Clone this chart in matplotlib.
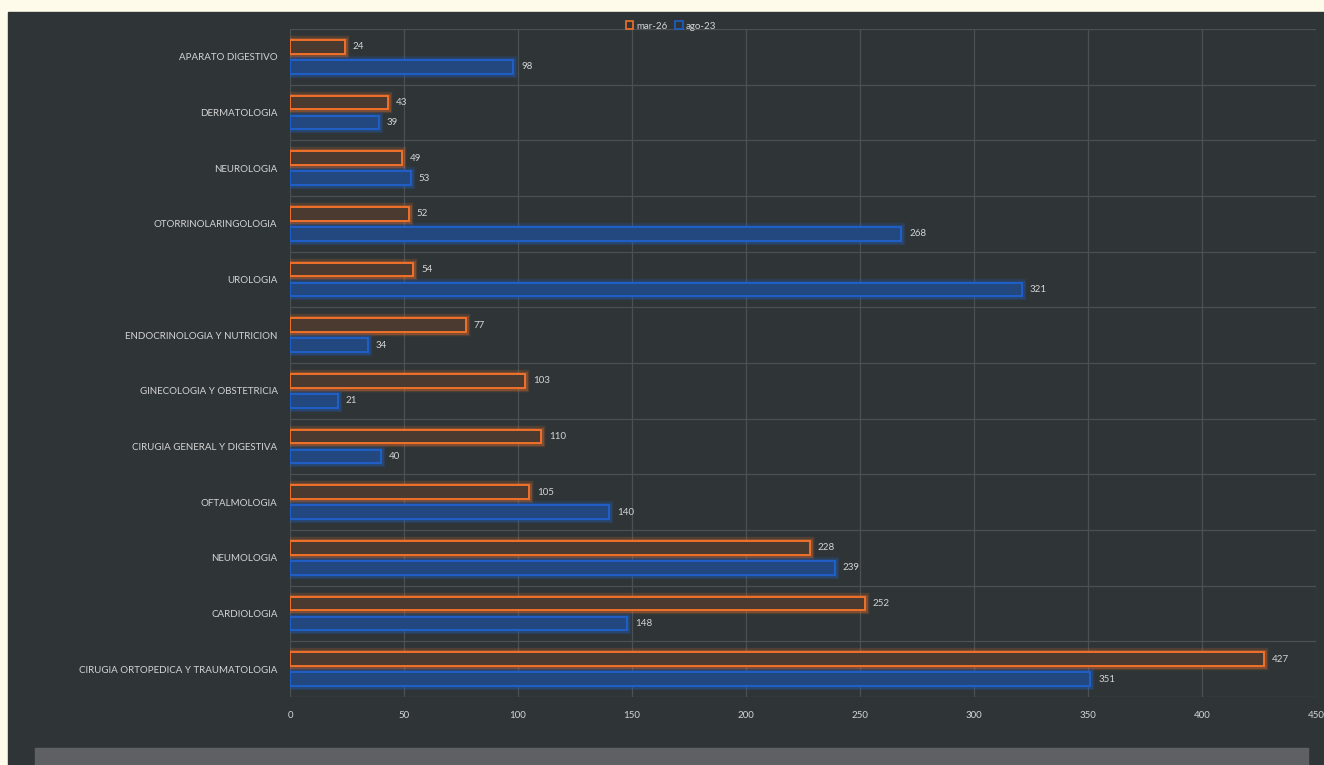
import matplotlib.pyplot as plt
import matplotlib.patches as mpatches
import numpy as np

categorias = ['APARATO DIGESTIVO', 'DERMATOLOGIA', 'NEUROLOGIA', 'OTORRINOLARINGOLOGIA',
              'UROLOGIA', 'ENDOCRINOLOGIA Y NUTRICION', 'GINECOLOGIA Y OBSTETRICIA',
              'CIRUGIA GENERAL Y DIGESTIVA', 'OFTALMOLOGIA', 'NEUMOLOGIA', 'CARDIOLOGIA',
              'CIRUGIA ORTOPEDICA Y TRAUMATOLOGIA']
mar26 = [24, 43, 49, 52, 54, 77, 103, 110, 105, 228, 252, 427]
ago23 = [98, 39, 53, 268, 321, 34, 21, 40, 140, 239, 148, 351]
series = ['mar-26', 'ago-23']

plt.rcParams['font.family'] = ['Lato', 'DejaVu Sans']

fondo = '#2f3537'
naranja = '#f0702a'
azul = '#1f60c8'
texto = '#d4d4d4'

fig = plt.figure(figsize=(13.24, 7.65), dpi=100)
fig.patch.set_facecolor('#fffbea')
# panel oscuro y franja gris inferior
fig.add_artist(mpatches.Rectangle((8/1324, 0), 1 - 8/1324, 1 - 12/765,
                                  transform=fig.transFigure, color=fondo, zorder=0))
fig.add_artist(mpatches.Rectangle((35/1324, 0), (1308-35)/1324, 17/765,
                                  transform=fig.transFigure, color='#5f6064', zorder=1))

ax = fig.add_axes([290/1324, 1 - 697/765, (1316-290)/1324, (697-29)/765])
ax.set_facecolor(fondo)

y = np.arange(len(categorias))
h = 0.25
off = 0.18

def barras(vals, pos, col, fill):
    # halo difuso + borde brillante
    ax.barh(pos, vals, height=h, color='none', edgecolor=col, linewidth=6, alpha=0.18, zorder=2)
    ax.barh(pos, vals, height=h, color='none', edgecolor=col, linewidth=3.5, alpha=0.3, zorder=2)
    ax.barh(pos, vals, height=h, color=fill, edgecolor=col, linewidth=1.4, zorder=3)

barras(mar26, y - off, naranja, '#4a3a2f')
barras(ago23, y + off, azul, '#23487f')

for i in range(len(categorias)):
    ax.text(mar26[i] + 3.5, y[i] - off, str(mar26[i]), va='center', ha='left', fontsize=7, color=texto)
    ax.text(ago23[i] + 3.5, y[i] + off, str(ago23[i]), va='center', ha='left', fontsize=7, color=texto)

ax.set_xlim(0, 450)
ax.set_ylim(len(categorias) - 0.5, -0.5)
ax.set_xticks(np.arange(0, 451, 50))
ax.set_yticks(y)
ax.set_yticklabels(categorias)
ax.set_yticks(np.arange(-0.5, len(categorias), 1), minor=True)
ax.tick_params(axis='both', length=0, colors=texto, labelsize=7)
ax.tick_params(axis='y', pad=9)
ax.tick_params(axis='x', pad=10)
ax.tick_params(which='minor', length=0)
ax.grid(axis='x', color='#4b5153', linewidth=0.9, zorder=0)
ax.grid(axis='y', which='minor', color='#4b5153', linewidth=0.9, zorder=0)
ax.grid(axis='y', which='major', visible=False)
ax.set_axisbelow(True)
for s in ax.spines.values():
    s.set_visible(False)

handles = [mpatches.Patch(facecolor='none', edgecolor=naranja, linewidth=1.2, label=series[0]),
           mpatches.Patch(facecolor='none', edgecolor=azul, linewidth=1.2, label=series[1])]
fig.legend(handles=handles, loc='center', bbox_to_anchor=(671/1324, 1 - 26/765), ncol=2,
           frameon=False, fontsize=7, labelcolor=texto, handlelength=0.8, handleheight=0.8,
           handletextpad=0.3, columnspacing=0.8)

plt.savefig('out.png', dpi=100, facecolor=fig.get_facecolor())
